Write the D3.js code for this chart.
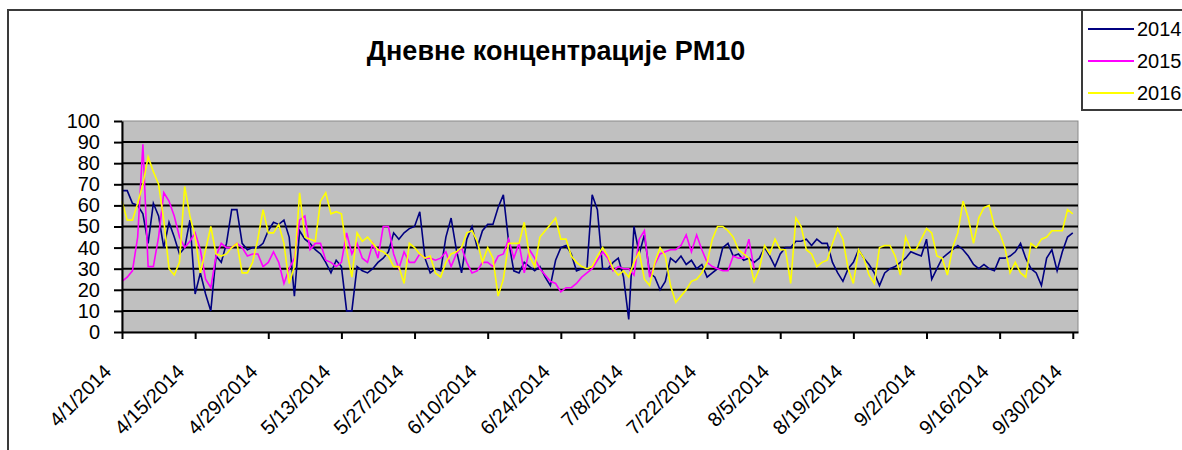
<!DOCTYPE html>
<html>
<head>
<meta charset="utf-8">
<script src="https://cdn.jsdelivr.net/npm/d3@7"></script>
<style>
  html, body { margin: 0; padding: 0; background: #fff; }
  svg { display: block; font-family: "Liberation Sans", Arial, sans-serif; }
</style>
</head>
<body>
<svg id="chart" width="1182" height="450"></svg>
<script>
const title = "Дневне концентрације PM10";
const seriesNames = ["2014", "2015", "2016"];
const seriesColors = ["#000080", "#ff00ff", "#ffff00"];
const startDate = "2014-04-01";
const yTicks = [0, 10, 20, 30, 40, 50, 60, 70, 80, 90, 100];
const xTickLabels = ["4/1/2014","4/15/2014","4/29/2014","5/13/2014","5/27/2014","6/10/2014","6/24/2014","7/8/2014","7/22/2014","8/5/2014","8/19/2014","9/2/2014","9/16/2014","9/30/2014"];

const values2014 = [
  67,67,61,60,56,42,61,55,40,52,
  45,37,40,53,18,28,18,10,36,33,
  42,58,58,42,39,40,40,42,48,52,
  51,53,45,17,48,44,42,39,37,33,
  28,34,31,10,10,31,29,28,30,33,
  35,38,47,44,47,49,50,57,35,28,
  30,29,45,54,39,28,44,50,40,48,
  51,51,59,65,43,29,28,33,31,29,
  31,26,22,34,40,41,37,29,30,30,
  65,58,30,30,33,35,26,6,50,37,
  46,28,26,20,24,35,33,36,32,34,
  30,32,26,28,30,40,42,36,37,34,
  35,33,35,40,36,31,37,40,40,43,
  43,44,41,44,42,42,33,28,24,30,
  33,39,35,32,28,22,28,30,31,33,
  35,38,37,36,44,25,30,35,37,39,
  41,39,36,32,30,32,30,29,35,35,
  36,38,42,35,30,28,22,35,39,29,
  38,45,47
];

const values2015 = [
  24,26,29,45,89,31,31,45,66,62,
  55,45,40,43,47,39,25,21,36,42,
  40,40,42,40,36,37,37,31,33,38,
  33,23,30,35,53,55,39,42,42,34,
  33,31,33,47,37,42,35,33,42,35,
  50,50,37,30,38,33,33,37,35,35,
  34,35,38,31,37,40,33,28,29,33,
  33,31,36,37,44,35,42,28,39,35,
  30,27,24,23,19,21,21,23,26,28,
  30,34,38,35,29,31,30,30,27,44,
  48,26,32,37,38,39,39,41,46,38,
  46,39,33,31,30,29,29,36,35,35,
  44,30
];

const values2016 = [
  62,53,53,61,70,83,76,70,53,30,
  27,33,69,55,45,28,39,50,37,36,
  37,40,42,28,28,33,44,58,47,47,
  51,42,23,31,66,45,44,43,62,66,
  56,57,56,39,26,47,43,45,42,39,
  38,36,31,31,23,42,40,37,35,36,
  28,26,33,37,38,40,47,48,43,33,
  40,35,17,25,42,42,42,52,36,31,
  45,48,51,54,44,44,36,33,31,30,
  31,36,40,36,30,27,29,26,33,38,
  25,22,33,40,36,22,14,17,20,24,
  25,28,33,44,50,50,48,45,39,37,
  35,24,30,41,37,44,39,39,23,54,
  50,39,37,31,33,34,42,49,44,30,
  23,39,35,27,23,40,41,41,36,27,
  45,39,39,44,49,47,36,35,27,40,
  47,62,54,42,54,59,60,50,47,40,
  28,33,28,26,42,40,44,45,48,48,
  48,58,56
];

const allSeries = [values2014, values2015, values2016];

const svg = d3.select("#chart");
const parse = d3.timeParse("%Y-%m-%d");
const start = parse(startDate);
const nDays = values2014.length;
const dates = d3.range(nDays).map(i => d3.timeDay.offset(start, i));
const fmt = d3.timeFormat("%-m/%-d/%Y");

const x = d3.scaleTime().domain([start, d3.timeDay.offset(start, nDays)]).range([122, 1078]);
const y = d3.scaleLinear().domain([0, 100]).range([332, 121]);

// chart area border
svg.append("rect").attr("x", 8).attr("y", 10).attr("width", 1400).attr("height", 600)
  .attr("fill", "#fff").attr("stroke", "#3a3a3a").attr("stroke-width", 2);

// plot area
svg.append("rect").attr("x", x.range()[0]).attr("y", y(100))
  .attr("width", x.range()[1] - x.range()[0]).attr("height", y(0) - y(100))
  .attr("fill", "#c0c0c0").attr("stroke", "#8a8a8a").attr("stroke-width", 1);

// gridlines
svg.append("g").selectAll("line").data(yTicks.filter(v => v > 0 && v < 100)).join("line")
  .attr("x1", x.range()[0]).attr("x2", x.range()[1])
  .attr("y1", d => y(d)).attr("y2", d => y(d))
  .attr("stroke", "#000").attr("stroke-width", 2);

// title
svg.append("text").attr("x", 556).attr("y", 60).attr("text-anchor", "middle")
  .attr("font-size", 27).attr("font-weight", "bold").attr("fill", "#000").text(title);

// series
const line = d3.line().defined(d => d != null)
  .x((d, i) => x(dates[i])).y(d => y(d));
allSeries.forEach((vals, k) => {
  svg.append("path").datum(vals).attr("d", line)
    .attr("fill", "none").attr("stroke", seriesColors[k]).attr("stroke-width", 1.6)
    .attr("stroke-linejoin", "miter");
});

// y axis
const yAxis = svg.append("g").attr("transform", `translate(${x.range()[0]},0)`)
  .call(d3.axisLeft(y).tickValues(yTicks).tickSize(8).tickSizeOuter(0).tickPadding(14).tickFormat(d => d));
yAxis.select(".domain").attr("stroke", "#000").attr("stroke-width", 2);
yAxis.selectAll(".tick line").attr("stroke", "#000").attr("stroke-width", 2);
yAxis.selectAll(".tick text").attr("font-size", 20).attr("font-family", "Liberation Sans, Arial, sans-serif").attr("fill", "#000");

// x axis
const tickDates = xTickLabels.map(s => d3.timeParse("%m/%d/%Y")(s));
const xAxis = svg.append("g").attr("transform", `translate(0,${y(0)})`)
  .call(d3.axisBottom(x).tickValues(tickDates).tickSize(7).tickSizeOuter(0).tickFormat(fmt));
xAxis.select(".domain").attr("stroke", "#000").attr("stroke-width", 2);
xAxis.selectAll(".tick line").attr("stroke", "#000").attr("stroke-width", 2);
xAxis.selectAll(".tick text")
  .attr("font-size", 20).attr("font-family", "Liberation Sans, Arial, sans-serif").attr("fill", "#000")
  .attr("x", 0).attr("y", 0).attr("dy", 0)
  .attr("text-anchor", "end")
  .attr("transform", "translate(-10,41) rotate(-45)");

// legend
const lg = svg.append("g");
lg.append("rect").attr("x", 1082).attr("y", 10).attr("width", 140).attr("height", 100)
  .attr("fill", "#fff").attr("stroke", "#3a3a3a").attr("stroke-width", 2);
seriesNames.forEach((name, k) => {
  const ly = 29 + k * 32;
  lg.append("line").attr("x1", 1088).attr("x2", 1134).attr("y1", ly).attr("y2", ly)
    .attr("stroke", seriesColors[k]).attr("stroke-width", 2);
  lg.append("text").attr("x", 1137).attr("y", ly).attr("dy", "0.35em")
    .attr("font-size", 20).attr("fill", "#000").text(name);
});
</script>
</body>
</html>
